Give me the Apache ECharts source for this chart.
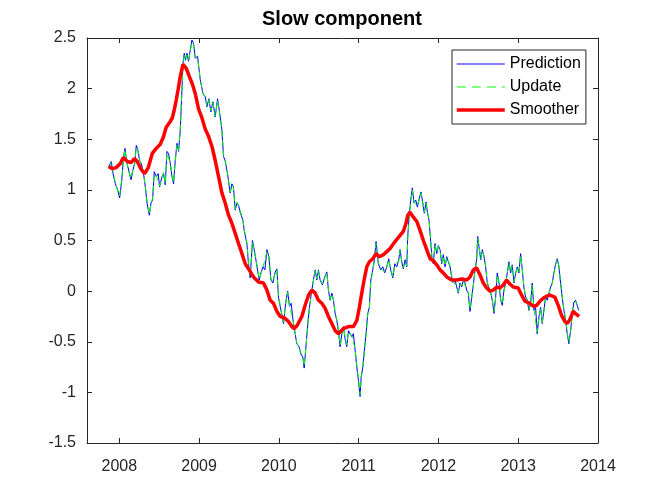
<!DOCTYPE html>
<html>
<head>
<meta charset="utf-8">
<script src="https://cdn.jsdelivr.net/npm/echarts@6/dist/echarts.min.js"></script>
<style>html,body{margin:0;padding:0;background:#fff}#c{width:664px;height:498px}</style>
</head>
<body>
<div id="c"></div>
<script>
// Decimal-year time stamps of the filtered series
var noisyYears = [2007.866,2007.900,2007.921,2007.950,2007.979,2008.004,2008.029,2008.054,2008.071,2008.096,2008.129,2008.147,2008.172,2008.192,2008.213,2008.234,2008.254,2008.276,2008.304,2008.326,2008.347,2008.376,2008.397,2008.417,2008.438,2008.463,2008.488,2008.505,2008.535,2008.555,2008.576,2008.597,2008.617,2008.639,2008.660,2008.680,2008.701,2008.723,2008.743,2008.764,2008.785,2008.798,2008.814,2008.830,2008.848,2008.868,2008.889,2008.910,2008.930,2008.952,2008.981,2009.014,2009.048,2009.077,2009.098,2009.123,2009.148,2009.173,2009.202,2009.231,2009.256,2009.286,2009.306,2009.327,2009.356,2009.390,2009.411,2009.431,2009.453,2009.474,2009.494,2009.515,2009.549,2009.565,2009.599,2009.619,2009.641,2009.669,2009.691,2009.712,2009.732,2009.753,2009.775,2009.800,2009.825,2009.850,2009.875,2009.900,2009.925,2009.950,2009.975,2009.995,2010.016,2010.041,2010.058,2010.088,2010.110,2010.133,2010.154,2010.179,2010.204,2010.225,2010.254,2010.275,2010.300,2010.317,2010.342,2010.363,2010.383,2010.413,2010.433,2010.455,2010.476,2010.496,2010.517,2010.546,2010.571,2010.601,2010.621,2010.642,2010.664,2010.684,2010.705,2010.726,2010.746,2010.768,2010.789,2010.809,2010.830,2010.851,2010.872,2010.893,2010.914,2010.934,2010.955,2010.977,2010.997,2011.018,2011.031,2011.052,2011.072,2011.093,2011.114,2011.134,2011.152,2011.177,2011.197,2011.218,2011.247,2011.277,2011.302,2011.327,2011.352,2011.377,2011.402,2011.428,2011.453,2011.478,2011.503,2011.519,2011.540,2011.560,2011.582,2011.603,2011.615,2011.632,2011.653,2011.673,2011.694,2011.716,2011.736,2011.761,2011.782,2011.803,2011.823,2011.845,2011.861,2011.882,2011.903,2011.920,2011.936,2011.957,2011.979,2011.999,2012.020,2012.041,2012.061,2012.083,2012.104,2012.124,2012.145,2012.166,2012.186,2012.208,2012.229,2012.249,2012.270,2012.292,2012.312,2012.333,2012.354,2012.374,2012.396,2012.417,2012.437,2012.458,2012.479,2012.492,2012.508,2012.530,2012.550,2012.571,2012.592,2012.612,2012.634,2012.655,2012.675,2012.696,2012.717,2012.737,2012.759,2012.780,2012.800,2012.821,2012.843,2012.863,2012.884,2012.905,2012.925,2012.947,2012.968,2012.988,2013.009,2013.030,2013.051,2013.072,2013.093,2013.113,2013.134,2013.156,2013.176,2013.197,2013.218,2013.238,2013.260,2013.281,2013.301,2013.322,2013.343,2013.364,2013.385,2013.406,2013.426,2013.447,2013.469,2013.489,2013.510,2013.531,2013.551,2013.573,2013.594,2013.614,2013.635,2013.657,2013.677,2013.698,2013.719,2013.739,2013.760];

var predictionValues = [1.23,1.28,1.16,1.06,1.00,0.92,1.08,1.33,1.41,1.26,1.16,1.10,1.20,1.26,1.44,1.39,1.29,1.26,1.16,1.03,0.87,0.75,0.87,0.90,1.18,1.13,1.16,1.03,1.13,1.16,1.05,1.38,1.36,1.26,1.13,1.06,1.29,1.46,1.38,1.59,1.99,2.25,2.35,2.28,2.35,2.27,2.38,2.48,2.45,2.30,2.32,2.09,1.95,1.92,1.82,1.90,1.77,1.87,1.72,1.90,1.77,1.59,1.33,1.29,1.16,0.97,1.06,1.03,0.80,0.87,0.85,0.78,0.70,0.60,0.47,0.27,0.13,0.50,0.41,0.31,0.21,0.11,0.18,0.24,0.21,0.41,0.34,0.11,0.08,0.18,0.22,-0.06,-0.15,-0.25,-0.32,-0.10,0.00,-0.15,-0.12,-0.30,-0.42,-0.52,-0.55,-0.62,-0.65,-0.76,-0.52,-0.32,-0.16,0.01,0.11,0.21,0.11,0.21,0.11,0.06,0.13,0.19,0.01,-0.09,-0.02,-0.09,-0.22,-0.29,-0.39,-0.55,-0.42,-0.35,-0.47,-0.55,-0.39,-0.40,-0.45,-0.42,-0.58,-0.75,-0.88,-1.04,-0.85,-0.75,-0.58,-0.42,-0.22,-0.16,0.11,0.21,0.31,0.49,0.27,0.21,0.24,0.18,0.24,0.32,0.21,0.13,0.27,0.24,0.31,0.41,0.29,0.22,0.31,0.24,0.54,0.73,0.90,1.02,0.87,0.90,0.83,0.92,0.98,0.87,0.77,0.88,0.78,0.70,0.49,0.31,0.27,0.47,0.37,0.45,0.41,0.27,0.36,0.24,0.34,0.29,0.24,0.14,0.08,0.11,0.04,-0.02,0.08,0.04,0.11,0.08,0.01,-0.02,-0.20,-0.06,0.06,0.21,0.31,0.54,0.44,0.31,0.41,0.34,0.24,0.08,0.03,-0.02,-0.09,-0.22,-0.06,0.18,0.08,-0.09,-0.14,0.01,0.08,0.18,0.29,0.18,0.26,0.08,0.18,0.24,0.18,0.37,0.21,0.03,-0.06,-0.09,-0.19,-0.11,0.08,-0.19,-0.16,-0.42,-0.25,-0.16,-0.32,-0.19,-0.06,-0.09,-0.02,0.04,0.08,0.18,0.27,0.32,0.24,0.08,-0.06,-0.19,-0.29,-0.42,-0.52,-0.39,-0.22,-0.11,-0.09,-0.14,-0.19];

var updateValues = [1.22,1.27,1.18,1.07,0.99,0.94,1.10,1.31,1.40,1.27,1.15,1.11,1.21,1.25,1.42,1.38,1.30,1.24,1.15,1.04,0.89,0.76,0.86,0.92,1.16,1.14,1.15,1.04,1.12,1.17,1.06,1.36,1.35,1.27,1.14,1.07,1.28,1.44,1.39,1.60,1.97,2.23,2.33,2.29,2.33,2.28,2.37,2.46,2.44,2.31,2.30,2.10,1.96,1.91,1.83,1.89,1.78,1.86,1.73,1.88,1.76,1.60,1.35,1.28,1.17,0.98,1.05,1.02,0.81,0.88,0.84,0.79,0.71,0.61,0.48,0.29,0.15,0.48,0.40,0.32,0.22,0.12,0.17,0.23,0.22,0.39,0.33,0.12,0.09,0.17,0.21,-0.04,-0.14,-0.24,-0.30,-0.11,-0.01,-0.14,-0.13,-0.29,-0.41,-0.51,-0.56,-0.61,-0.64,-0.74,-0.53,-0.33,-0.17,0.00,0.10,0.20,0.12,0.20,0.12,0.07,0.12,0.18,0.02,-0.08,-0.03,-0.08,-0.21,-0.28,-0.38,-0.53,-0.43,-0.36,-0.46,-0.53,-0.40,-0.41,-0.44,-0.43,-0.57,-0.73,-0.86,-1.02,-0.86,-0.76,-0.59,-0.43,-0.23,-0.17,0.09,0.20,0.30,0.47,0.28,0.22,0.23,0.19,0.23,0.31,0.22,0.14,0.26,0.25,0.30,0.40,0.30,0.23,0.30,0.25,0.52,0.71,0.88,1.00,0.88,0.89,0.84,0.91,0.97,0.88,0.78,0.87,0.79,0.71,0.51,0.32,0.28,0.46,0.38,0.44,0.40,0.28,0.35,0.25,0.33,0.30,0.25,0.15,0.09,0.10,0.05,-0.01,0.07,0.05,0.10,0.09,0.02,-0.01,-0.18,-0.07,0.05,0.20,0.30,0.52,0.45,0.32,0.40,0.35,0.25,0.09,0.04,-0.01,-0.08,-0.20,-0.07,0.16,0.09,-0.08,-0.13,0.00,0.07,0.17,0.28,0.19,0.25,0.09,0.17,0.23,0.19,0.35,0.22,0.04,-0.05,-0.08,-0.18,-0.12,0.06,-0.18,-0.17,-0.40,-0.26,-0.17,-0.31,-0.20,-0.07,-0.08,-0.03,0.03,0.07,0.17,0.26,0.31,0.25,0.09,-0.05,-0.18,-0.28,-0.40,-0.51,-0.40,-0.23,-0.12,-0.10,-0.13,-0.18];

var smootherYears = [2007.866,2007.912,2007.962,2008.013,2008.050,2008.100,2008.150,2008.188,2008.225,2008.276,2008.317,2008.363,2008.413,2008.463,2008.513,2008.551,2008.589,2008.626,2008.664,2008.689,2008.714,2008.739,2008.764,2008.798,2008.839,2008.877,2008.914,2008.952,2008.993,2009.036,2009.077,2009.118,2009.161,2009.202,2009.244,2009.286,2009.327,2009.369,2009.411,2009.453,2009.494,2009.537,2009.578,2009.619,2009.682,2009.744,2009.807,2009.850,2009.891,2009.932,2009.975,2010.016,2010.079,2010.120,2010.163,2010.192,2010.229,2010.288,2010.329,2010.371,2010.413,2010.455,2010.496,2010.538,2010.580,2010.621,2010.664,2010.705,2010.746,2010.809,2010.872,2010.934,2010.977,2011.009,2011.039,2011.068,2011.102,2011.134,2011.177,2011.218,2011.260,2011.310,2011.352,2011.394,2011.456,2011.519,2011.560,2011.594,2011.615,2011.644,2011.686,2011.728,2011.769,2011.811,2011.853,2011.895,2011.936,2011.979,2012.020,2012.061,2012.104,2012.166,2012.229,2012.292,2012.354,2012.396,2012.437,2012.477,2012.521,2012.562,2012.605,2012.646,2012.687,2012.730,2012.771,2012.812,2012.855,2012.896,2012.938,2013.000,2013.043,2013.084,2013.147,2013.188,2013.231,2013.272,2013.313,2013.356,2013.397,2013.460,2013.501,2013.543,2013.585,2013.614,2013.648,2013.689,2013.730,2013.763];

var smootherValues = [1.23,1.21,1.22,1.26,1.32,1.28,1.27,1.31,1.28,1.20,1.16,1.22,1.36,1.41,1.45,1.52,1.62,1.66,1.71,1.79,1.89,2.00,2.12,2.24,2.20,2.12,2.05,1.95,1.80,1.71,1.60,1.53,1.43,1.29,1.13,0.97,0.87,0.75,0.67,0.57,0.47,0.37,0.27,0.22,0.14,0.09,0.08,0.01,-0.09,-0.12,-0.20,-0.25,-0.27,-0.30,-0.35,-0.37,-0.34,-0.25,-0.14,-0.04,0.01,-0.02,-0.09,-0.12,-0.17,-0.25,-0.32,-0.39,-0.42,-0.37,-0.35,-0.35,-0.29,-0.16,-0.02,0.11,0.24,0.29,0.32,0.37,0.34,0.36,0.39,0.42,0.49,0.55,0.59,0.67,0.75,0.78,0.73,0.69,0.60,0.50,0.41,0.32,0.30,0.26,0.21,0.18,0.14,0.11,0.11,0.12,0.11,0.14,0.21,0.23,0.16,0.08,0.03,0.00,0.01,0.04,0.03,0.06,0.11,0.07,0.04,0.03,-0.04,-0.10,-0.12,-0.15,-0.14,-0.10,-0.07,-0.05,-0.04,-0.06,-0.14,-0.24,-0.30,-0.32,-0.28,-0.20,-0.23,-0.25];

var xTickYears = [2008, 2009, 2010, 2011, 2012, 2013, 2014];
var seriesNames = ['Prediction', 'Update', 'Smoother'];
var chartTitle = 'Slow component';

function pairs(xs, ys) {
  var out = [], n = Math.min(xs.length, ys.length);
  for (var i = 0; i < n; i++) out.push([xs[i], ys[i]]);
  return out;
}

var FONT = 'Liberation Sans, Arial, Helvetica, sans-serif';
var AX = '#262626';
var X_MIN = 2007.595, X_MAX = 2014;

function xAxisDef(pos, showLabel) {
  return {
    type: 'value', position: pos, min: X_MIN, max: X_MAX,
    axisLine: { show: true, onZero: false, lineStyle: { color: AX, width: 1 } },
    axisTick: { show: true, inside: true, length: 5, customValues: xTickYears, lineStyle: { color: AX } },
    axisLabel: { show: showLabel, customValues: xTickYears, margin: 16, color: AX, fontSize: 16, fontFamily: FONT,
      formatter: function (v) { return String(Math.round(v)); } },
    splitLine: { show: false }
  };
}
function yAxisDef(pos, showLabel) {
  return {
    type: 'value', position: pos, min: -1.5, max: 2.5, interval: 0.5,
    axisLine: { show: true, onZero: false, lineStyle: { color: AX, width: 1 } },
    axisTick: { show: true, inside: true, length: 5, lineStyle: { color: AX } },
    axisLabel: { show: showLabel, margin: 11, color: AX, fontSize: 16, fontFamily: FONT,
      formatter: function (v) { return String(+v.toFixed(2)); } },
    splitLine: { show: false }
  };
}

var chart = echarts.init(document.getElementById('c'), null, { renderer: 'canvas' });
chart.setOption({
  animation: false,
  backgroundColor: '#ffffff',
  title: {
    text: chartTitle, left: 262, top: 9, padding: 0,
    textStyle: { fontFamily: FONT, fontSize: 20, fontWeight: 'bold', color: '#000' }
  },
  grid: { left: 87, right: 66, top: 38, bottom: 55, containLabel: false },
  xAxis: [xAxisDef('bottom', true), xAxisDef('top', false)],
  yAxis: [yAxisDef('left', true), yAxisDef('right', false)],
  legend: {
    show: true, orient: 'vertical', left: 452, top: 50, width: 135,
    padding: [6, 5, 6, 3], itemGap: 7, itemWidth: 48, itemHeight: 14,
    backgroundColor: '#ffffff', borderColor: AX, borderWidth: 1, borderRadius: 0,
    itemStyle: { opacity: 0 },
    textStyle: { fontFamily: FONT, fontSize: 16, color: '#000' },
    data: [
      { name: seriesNames[0], lineStyle: { width: 1 } },
      { name: seriesNames[1], lineStyle: { width: 1, type: [9, 6] } },
      { name: seriesNames[2], lineStyle: { width: 3.5 } }
    ]
  },
  series: [
    { name: seriesNames[0], type: 'line', data: pairs(noisyYears, predictionValues),
      symbol: 'none', showSymbol: false, color: '#0000ff',
      lineStyle: { color: '#0000ff', width: 1 }, z: 2 },
    { name: seriesNames[1], type: 'line', data: pairs(noisyYears, updateValues),
      symbol: 'none', showSymbol: false, color: '#00ff00',
      lineStyle: { color: '#00ff00', width: 1, type: [6, 4] }, z: 3 },
    { name: seriesNames[2], type: 'line', data: pairs(smootherYears, smootherValues),
      symbol: 'none', showSymbol: false, color: '#ff0000',
      lineStyle: { color: '#ff0000', width: 3.5 }, z: 4 }
  ]
});
</script>
</body>
</html>
